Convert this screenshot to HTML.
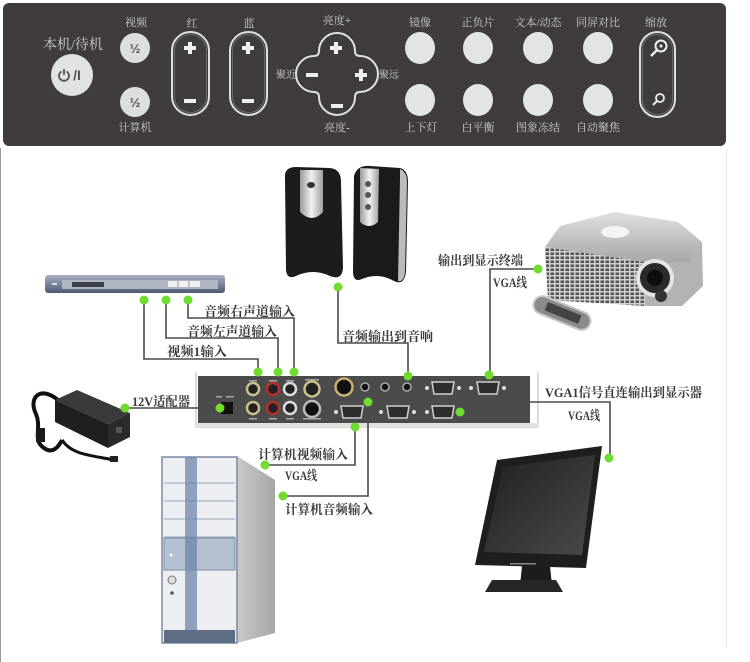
<!DOCTYPE html>
<html><head><meta charset="utf-8"><style>
html,body{margin:0;padding:0;background:#fff;}
svg{display:block;}
.p{font-family:"Liberation Serif","Noto Serif CJK SC",serif;fill:#cfcfcf;font-size:11px;text-anchor:middle;}
.l{font-family:"Liberation Serif","Noto Serif CJK SC",serif;fill:#3a3a3a;font-size:13px;font-weight:bold;}
.ln{fill:none;stroke:#4a4a4a;stroke-width:1.6;}
.g{fill:#6fdc2f;}
</style></head><body>
<svg width="750" height="662" viewBox="0 0 750 662" xmlns="http://www.w3.org/2000/svg">
<defs>
<linearGradient id="dvd" x1="0" y1="0" x2="0" y2="1"><stop offset="0" stop-color="#a9b1c2"/><stop offset="0.5" stop-color="#7a869c"/><stop offset="1" stop-color="#4d5a72"/></linearGradient>
<linearGradient id="silver" x1="0" y1="0" x2="1" y2="0"><stop offset="0" stop-color="#9a9a9a"/><stop offset="0.5" stop-color="#f2f2f2"/><stop offset="1" stop-color="#a0a0a0"/></linearGradient>
<linearGradient id="ptop" x1="0" y1="0" x2="0" y2="1"><stop offset="0" stop-color="#e0e0e0"/><stop offset="1" stop-color="#a8a8a8"/></linearGradient>
<linearGradient id="scr" x1="0" y1="0" x2="1" y2="1"><stop offset="0" stop-color="#202020"/><stop offset="1" stop-color="#4a4a4a"/></linearGradient>
<linearGradient id="side" x1="0" y1="0" x2="1" y2="0"><stop offset="0" stop-color="#c9c9c9"/><stop offset="1" stop-color="#a6a6a6"/></linearGradient>
<pattern id="grill" width="5" height="4" patternUnits="userSpaceOnUse"><rect width="5" height="4" fill="#cfcfcf"/><rect x="0.5" y="0.5" width="3.5" height="2.5" fill="#555"/></pattern>
</defs>

<!-- top control panel -->
<rect x="3" y="3" width="723" height="143" rx="6" fill="#403c3b"/>
<text class="p" x="73" y="49" style="font-size:14px">本机/待机</text>
<circle cx="72" cy="75" r="21" fill="#e2e2e2"/>
<path d="M61.5 71.5 A5 5 0 1 0 66.5 71.5" fill="none" stroke="#555" stroke-width="1.8"/>
<line x1="64" y1="69" x2="64" y2="75" stroke="#555" stroke-width="1.8"/>
<text x="77" y="80" style="font-family:'Liberation Sans',sans-serif;font-size:14px;font-weight:bold;fill:#555;text-anchor:middle">/I</text>

<text class="p" x="136" y="26">视频</text>
<circle cx="135" cy="48" r="15" fill="#dedede"/>
<text x="135" y="53" style="font-family:'Liberation Sans',sans-serif;font-size:13px;font-weight:bold;fill:#555;text-anchor:middle">½</text>
<circle cx="135" cy="102" r="15" fill="#dedede"/>
<text x="135" y="107" style="font-family:'Liberation Sans',sans-serif;font-size:13px;font-weight:bold;fill:#555;text-anchor:middle">½</text>
<text class="p" x="135" y="131">计算机</text>

<text class="p" x="192" y="27">红</text>
<rect x="172" y="32" width="37" height="83" rx="18.5" fill="none" stroke="#e0e0e0" stroke-width="2"/>
<rect x="174.5" y="34.5" width="32" height="78" rx="16" fill="none" stroke="#777" stroke-width="0.8"/>
<rect x="184" y="46" width="12" height="4" fill="#eee"/><rect x="188" y="42" width="4" height="12" fill="#eee"/>
<rect x="184" y="99" width="12" height="4" fill="#eee"/>

<text class="p" x="249" y="27">蓝</text>
<rect x="230" y="32" width="37" height="83" rx="18.5" fill="none" stroke="#e0e0e0" stroke-width="2"/>
<rect x="232.5" y="34.5" width="32" height="78" rx="16" fill="none" stroke="#777" stroke-width="0.8"/>
<rect x="242" y="46" width="12" height="4" fill="#eee"/><rect x="246" y="42" width="4" height="12" fill="#eee"/>
<rect x="242" y="99" width="12" height="4" fill="#eee"/>

<text class="p" x="337" y="24">亮度+</text>
<path d="M319 51 A18 18 0 0 1 355 51 Q355 56 360 56 A18 18 0 0 1 360 92 Q355 92 355 97 A18 18 0 0 1 319 97 Q319 92 314 92 A18 18 0 0 1 314 56 Q319 56 319 51 Z" fill="none" stroke="#e0e0e0" stroke-width="2"/>
<rect x="330" y="46" width="12" height="4" fill="#eee"/><rect x="334" y="42" width="4" height="12" fill="#eee"/>
<rect x="331" y="104" width="12" height="4" fill="#eee"/>
<rect x="306" y="73" width="12" height="4" fill="#eee"/>
<rect x="355" y="73" width="12" height="4" fill="#eee"/><rect x="359" y="69" width="4" height="12" fill="#eee"/>
<text class="p" x="286" y="78" style="font-size:10px">聚近</text>
<text class="p" x="389" y="78" style="font-size:10px">聚远</text>
<text class="p" x="337" y="131">亮度-</text>

<text class="p" x="420" y="26">镜像</text>
<text class="p" x="478" y="26">正负片</text>
<text class="p" x="538" y="26">文本/动态</text>
<text class="p" x="598" y="26">同屏对比</text>
<text class="p" x="656" y="26">缩放</text>
<g fill="#e4e4e4">
<ellipse cx="420" cy="48" rx="15" ry="16"/><ellipse cx="478" cy="48" rx="15" ry="16"/><ellipse cx="538" cy="48" rx="15" ry="16"/><ellipse cx="598" cy="48" rx="15" ry="16"/>
<ellipse cx="420" cy="100" rx="15" ry="16"/><ellipse cx="478" cy="100" rx="15" ry="16"/><ellipse cx="538" cy="100" rx="15" ry="16"/><ellipse cx="598" cy="100" rx="15" ry="16"/>
</g>
<text class="p" x="421" y="131">上下灯</text>
<text class="p" x="478" y="131">白平衡</text>
<text class="p" x="538" y="131">图象冻结</text>
<text class="p" x="598" y="131">自动聚焦</text>
<rect x="640" y="32" width="35" height="85" rx="17.5" fill="none" stroke="#e0e0e0" stroke-width="2"/>
<rect x="642.5" y="34.5" width="30" height="80" rx="15" fill="none" stroke="#777" stroke-width="0.8"/>
<circle cx="661" cy="46" r="5.5" fill="none" stroke="#eee" stroke-width="2"/><circle cx="661" cy="46" r="1.5" fill="#eee"/>
<line x1="657" y1="50" x2="651" y2="56" stroke="#eee" stroke-width="2.5"/>
<circle cx="660" cy="98" r="4" fill="none" stroke="#eee" stroke-width="1.8"/>
<line x1="657" y1="101" x2="653" y2="105" stroke="#eee" stroke-width="2"/>

<!-- frame lines -->
<line x1="0.5" y1="148" x2="0.5" y2="662" stroke="#9a9a9a" stroke-width="1"/>
<line x1="726.5" y1="150" x2="726.5" y2="648" stroke="#ececec" stroke-width="1"/>

<!-- DVD player -->
<rect x="45" y="275" width="180" height="18" rx="3" fill="url(#dvd)"/>
<rect x="62" y="280" width="156" height="9" fill="#aeb6c4"/>
<rect x="72" y="282" width="32" height="5" fill="#3a3f4a"/>
<rect x="168" y="281" width="32" height="6" fill="#f0f0f0"/>
<line x1="178" y1="281" x2="178" y2="287" stroke="#999"/><line x1="189" y1="281" x2="189" y2="287" stroke="#999"/>
<rect x="52" y="283" width="5" height="2" fill="#ddd"/>

<!-- speakers -->
<path d="M285 178 Q284 167 296 167 L330 168 Q341 169 341 182 L343 268 Q342 281 330 276 Q313 268 296 276 Q287 280 286 270 Z" fill="#1c1c1c"/>
<path d="M300 170 L323 170 L323 212 Q312 224 300 212 Z" fill="url(#silver)"/>
<ellipse cx="311" cy="185" rx="4" ry="3" fill="#333"/>
<path d="M354 176 Q357 165 370 166 L400 168 Q408 170 408 182 L406 272 Q404 286 394 281 Q378 272 362 279 Q353 283 353 271 Z" fill="#1a1a1a"/>
<path d="M400 169 Q407 172 407 182 L405 272 Q404 282 398 281 L400 180 Z" fill="#bbb"/>
<path d="M360 168 L379 169 L378 222 Q369 230 360 222 Z" fill="url(#silver)"/>
<circle cx="368" cy="184" r="3" fill="#555"/><circle cx="368" cy="195" r="3" fill="#555"/><circle cx="368" cy="207" r="3" fill="#555"/>

<!-- projector -->
<polygon points="545,247 560,226 615,212 678,222 702,242 690,262 645,262" fill="url(#ptop)"/>
<ellipse cx="615" cy="232" rx="14" ry="6" fill="#f4f4f4"/>
<polygon points="545,247 645,262 645,306 548,300" fill="url(#grill)"/>
<polygon points="645,262 690,262 702,242 703,286 682,306 645,306" fill="#b3b3b3"/>
<circle cx="655" cy="278" r="17" fill="#2a2a2a" stroke="#e4e4e4" stroke-width="4"/>
<circle cx="655" cy="278" r="8" fill="#0e0e0e"/>
<circle cx="661" cy="296" r="6" fill="#333"/>
<g transform="rotate(22 562 313)"><rect x="532" y="304" width="60" height="18" rx="9" fill="#8a8a8a" stroke="#c8c8c8" stroke-width="2"/><rect x="545" y="308" width="36" height="9" fill="#444"/></g>

<!-- adapter -->
<path d="M58 400 C40 385 28 398 36 414 C42 428 32 440 44 448 C52 454 58 448 62 440" fill="none" stroke="#111" stroke-width="4"/>
<path d="M62 440 C72 455 90 455 114 460" fill="none" stroke="#111" stroke-width="3"/>
<rect x="110" y="456" width="8" height="6" fill="#222"/>
<rect x="36" y="428" width="9" height="14" fill="#1a1a1a"/>
<polygon points="55,400 77,390 130,413 108,424" fill="#3a3a3a"/>
<polygon points="108,424 130,413 130,437 108,448" fill="#2b2b2b"/>
<polygon points="55,400 108,424 108,448 55,422" fill="#1f1f1f"/>
<rect x="116" y="427" width="6" height="6" fill="#555"/>

<!-- rear panel -->
<polyline points="196,372 196,427 538,427 538,372" fill="none" stroke="#cfcfcf" stroke-width="1.5"/>
<rect x="196" y="423" width="342" height="4" fill="#e2e2e2"/>
<rect x="198" y="376" width="332" height="47" fill="#4b4b4b"/>
<g fill="#aaa"><rect x="216" y="396" width="6" height="1.5"/><rect x="226" y="396" width="8" height="1.5"/>
<rect x="249" y="380" width="8" height="1.5"/><rect x="269" y="380" width="8" height="1.5"/><rect x="286" y="380" width="8" height="1.5"/><rect x="305" y="379" width="14" height="1.5"/>
<rect x="249" y="418" width="8" height="1.5"/><rect x="269" y="418" width="8" height="1.5"/><rect x="286" y="418" width="8" height="1.5"/><rect x="303" y="418" width="18" height="1.5"/></g>
<rect x="221" y="402" width="12" height="12" fill="#111"/>
<g stroke-width="2.5">
<circle cx="253" cy="389" r="6" fill="#222" stroke="#c9c08a"/>
<circle cx="273" cy="389" r="6" fill="#222" stroke="#b23030"/>
<circle cx="290" cy="389" r="6" fill="#222" stroke="#dcdcdc"/>
<circle cx="312" cy="389" r="7.5" fill="#222" stroke="#c9c08a"/>
<circle cx="253" cy="408" r="6" fill="#222" stroke="#c9c08a"/>
<circle cx="273" cy="408" r="6" fill="#222" stroke="#b23030"/>
<circle cx="290" cy="408" r="6" fill="#222" stroke="#dcdcdc"/>
<circle cx="312" cy="409" r="8" fill="#111" stroke="#bbb"/>
<circle cx="344" cy="387" r="8.5" fill="#111" stroke="#c9b070"/>
</g>
<g fill="#111" stroke="#aaa" stroke-width="1.5">
<circle cx="365" cy="387" r="4"/><circle cx="385" cy="387" r="4"/><circle cx="407" cy="387" r="4"/>
</g>
<g fill="#2e2e2e" stroke="#d0d0d0" stroke-width="1.5">
<path d="M432 382 L454 382 L452 394 L434 394 Z"/>
<path d="M477 382 L499 382 L497 394 L479 394 Z"/>
<path d="M341 406 L363 406 L361 418 L343 418 Z"/>
<path d="M387 406 L409 406 L407 418 L389 418 Z"/>
<path d="M432 406 L454 406 L452 418 L434 418 Z"/>
</g>
<g fill="#ddd">
<circle cx="427" cy="388" r="2"/><circle cx="459" cy="388" r="2"/><circle cx="471" cy="388" r="2"/><circle cx="504" cy="388" r="2"/>
<circle cx="336" cy="412" r="2"/><circle cx="381" cy="412" r="2"/><circle cx="414" cy="412" r="2"/><circle cx="427" cy="412" r="2"/>
</g>

<!-- computer tower -->
<polygon points="237,456 275,480 275,633 237,643" fill="url(#side)"/>
<rect x="162" y="457" width="75" height="186" fill="#eceef2"/>
<rect x="162" y="457" width="75" height="186" fill="none" stroke="#7a8aa3" stroke-width="1.5"/>
<g stroke="#9aa6b8" stroke-width="1"><line x1="164" y1="483" x2="235" y2="483"/><line x1="164" y1="501" x2="235" y2="501"/><line x1="164" y1="519" x2="235" y2="519"/><line x1="164" y1="537" x2="235" y2="537"/></g>
<rect x="164" y="538" width="71" height="32" fill="#b5c0d0" stroke="#7a8aa3"/>
<rect x="185" y="457" width="12" height="180" fill="#6f86a8" opacity="0.75"/>
<rect x="164" y="630" width="71" height="13" fill="#5c6d85"/>
<circle cx="172" cy="580" r="4" fill="#ddd" stroke="#777"/>
<circle cx="172" cy="593" r="1.8" fill="#555"/>
<circle cx="171" cy="555" r="1.5" fill="#fff"/>

<!-- monitor -->
<polygon points="522,566 550,566 552,585 520,585" fill="#1c1c1c"/>
<polygon points="492,580 556,580 563,592 485,592" fill="#262626"/>
<polygon points="497,460 602,446 586,568 475,565" fill="#1e1e1e"/>
<polygon points="503,467 595,455 582,555 484,552" fill="url(#scr)"/>
<rect x="510" y="563" width="26" height="1.5" fill="#888"/>

<!-- connector lines -->
<polyline class="ln" points="144,300 144,359 258,359 258,372"/>
<polyline class="ln" points="166,300 166,338 278,338 278,372"/>
<polyline class="ln" points="188,300 188,318 294,318 294,372"/>
<polyline class="ln" points="338,287 338,343 408,343 408,376"/>
<polyline class="ln" points="538,269 490,269 490,375"/>
<polyline class="ln" points="460,412 460,402 610,402 610,458"/>
<polyline class="ln" points="355,427 355,465 265,465"/>
<polyline class="ln" points="368,402 368,496 283,496"/>
<polyline class="ln" points="125,408 220,408"/>

<!-- green dots -->
<g class="g">
<circle cx="144" cy="300" r="4.5"/><circle cx="166" cy="300" r="4.5"/><circle cx="188" cy="300" r="4.5"/>
<circle cx="338" cy="287" r="4.5"/><circle cx="538" cy="269" r="4.5"/><circle cx="125" cy="408" r="4.5"/>
<circle cx="258" cy="372" r="4.5"/><circle cx="278" cy="372" r="4.5"/><circle cx="294" cy="372" r="4.5"/>
<circle cx="220" cy="408" r="4.5"/><circle cx="368" cy="402" r="4.5"/><circle cx="355" cy="427" r="4.5"/>
<circle cx="408" cy="376" r="4.5"/><circle cx="489" cy="375" r="4.5"/><circle cx="460" cy="412" r="4.5"/>
<circle cx="609" cy="458" r="4.5"/><circle cx="265" cy="465" r="4.5"/><circle cx="283" cy="496" r="4.5"/>
</g>

<!-- labels -->
<text class="l" x="204" y="316" textLength="91" lengthAdjust="spacingAndGlyphs">音频右声道输入</text>
<text class="l" x="187" y="336" textLength="90" lengthAdjust="spacingAndGlyphs">音频左声道输入</text>
<text class="l" x="167" y="356" textLength="60" lengthAdjust="spacingAndGlyphs">视频1输入</text>
<text class="l" x="342" y="341" textLength="91" lengthAdjust="spacingAndGlyphs">音频输出到音响</text>
<text class="l" x="132" y="406" textLength="58" lengthAdjust="spacingAndGlyphs">12V适配器</text>
<text class="l" x="438" y="265" textLength="85" lengthAdjust="spacingAndGlyphs">输出到显示终端</text>
<text class="l" x="493" y="287" textLength="34" lengthAdjust="spacingAndGlyphs">VGA线</text>
<text class="l" x="545" y="397" textLength="157" lengthAdjust="spacingAndGlyphs">VGA1信号直连输出到显示器</text>
<text class="l" x="568" y="420" textLength="32" lengthAdjust="spacingAndGlyphs">VGA线</text>
<text class="l" x="258" y="459" textLength="90" lengthAdjust="spacingAndGlyphs">计算机视频输入</text>
<text class="l" x="285" y="480" textLength="32" lengthAdjust="spacingAndGlyphs">VGA线</text>
<text class="l" x="285" y="514" textLength="88" lengthAdjust="spacingAndGlyphs">计算机音频输入</text>
</svg>
</body></html>
